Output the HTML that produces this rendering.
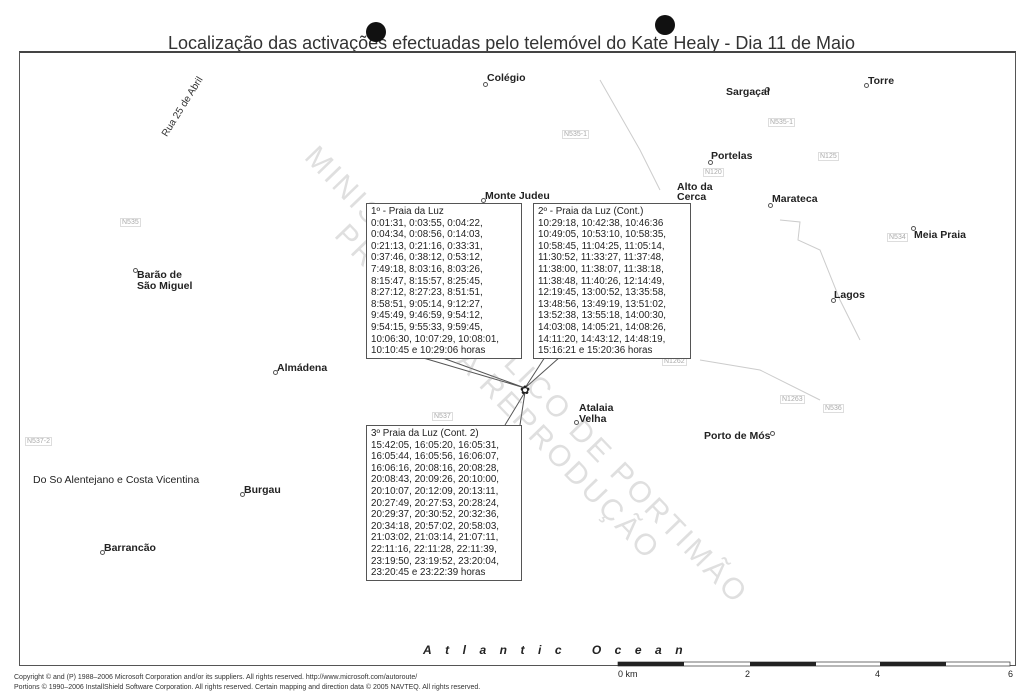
<!DOCTYPE html>
<html><head><meta charset="utf-8"><style>
body{margin:0;width:1024px;height:691px;background:#fff;position:relative;overflow:hidden;font-family:"Liberation Sans",sans-serif;color:#222}
.a{position:absolute;white-space:nowrap}
.p{position:absolute;font-weight:bold;font-size:10.5px;color:#222}
.d{position:absolute;width:3px;height:3px;border:1px solid #555;border-radius:50%;background:#fff}
.r{position:absolute;font-size:7px;color:#aaa;border:1px solid #ddd;padding:0 1px}
.box{position:absolute;border:1px solid #555;background:#fff;font-size:9.8px;line-height:11.6px;padding:2px 4px;color:#222}
.wm{position:absolute;font-size:30px;color:rgba(150,150,150,.3);letter-spacing:3px;transform-origin:0 0;white-space:nowrap}
</style></head><body>
<div class="a" style="left:168px;top:33px;font-size:18px;color:#333">Localização das activações efectuadas pelo telemóvel do Kate Healy - Dia 11 de Maio</div>
<div class="a" style="left:366px;top:22px;width:20px;height:20px;border-radius:50%;background:#111"></div>
<div class="a" style="left:655px;top:15px;width:20px;height:20px;border-radius:50%;background:#111"></div>
<div class="a" style="left:19px;top:51px;width:995px;height:612px;border:1px solid #555;border-top:2px solid #444"></div>
<div class="a" style="left:160px;top:133px;font-size:10px;color:#333;transform:rotate(-58deg);transform-origin:0 0">Rua 25 de Abril</div>
<svg class="a" style="left:0;top:0" width="1024" height="691">
<g fill="none" stroke="#ccc" stroke-width="1">
<path d="M600 80 L640 150 L660 190"/>
<path d="M780 220 L800 222 L798 240 L820 250 L840 300 L860 340"/>
<path d="M700 360 L760 370 L820 400"/>
</g>
<g stroke="#555" fill="none">
<path d="M420 357 L525 388 L440 357"/>
<path d="M545 357 L525 388 L560 357"/>
<path d="M505 425 L525 392 L520 425"/>
</g>
<text x="520" y="394" font-size="12" font-family="Liberation Sans" fill="#222">✿</text>
<rect x="618" y="662" width="392" height="4" fill="#fff" stroke="#333" stroke-width="0.7"/>
<rect x="618" y="662" width="66" height="4" fill="#222"/><rect x="750" y="662" width="66" height="4" fill="#222"/><rect x="880" y="662" width="66" height="4" fill="#222"/>
</svg>
<div class="wm" style="left:322px;top:140px;transform:rotate(46deg)">MINISTÉRIO PÚBLICO DE PORTIMÃO</div>
<div class="wm" style="left:352px;top:218px;transform:rotate(46deg)">PROIBIDA A REPRODUÇÃO</div>
<div class="d" style="left:483px;top:82px"></div><div class="p" style="left:487px;top:72px">Colégio</div>
<div class="d" style="left:765px;top:87px"></div><div class="p" style="left:726px;top:86px">Sargaçal</div>
<div class="d" style="left:864px;top:83px"></div><div class="p" style="left:868px;top:75px">Torre</div>
<div class="d" style="left:708px;top:160px"></div><div class="p" style="left:711px;top:150px">Portelas</div>
<div class="p" style="left:677px;top:182px;line-height:10px">Alto da<br>Cerca</div><div class="d" style="left:673px;top:203px"></div>
<div class="d" style="left:768px;top:203px"></div><div class="p" style="left:772px;top:193px">Marateca</div>
<div class="d" style="left:911px;top:226px"></div><div class="p" style="left:914px;top:229px">Meia Praia</div>
<div class="d" style="left:831px;top:298px"></div><div class="p" style="left:834px;top:289px">Lagos</div>
<div class="p" style="left:485px;top:190px">Monte Judeu</div><div class="d" style="left:481px;top:198px"></div>
<div class="d" style="left:133px;top:268px"></div><div class="p" style="left:137px;top:270px;line-height:11px">Barão de<br>São Miguel</div>
<div class="d" style="left:273px;top:370px"></div><div class="p" style="left:277px;top:362px">Almádena</div>
<div class="d" style="left:574px;top:420px"></div><div class="p" style="left:579px;top:403px;line-height:11px">Atalaia<br>Velha</div>
<div class="d" style="left:770px;top:431px"></div><div class="p" style="left:704px;top:430px">Porto de Mós</div>
<div class="p" style="left:33px;top:474px;font-weight:normal">Do So Alentejano e Costa Vicentina</div>
<div class="d" style="left:240px;top:492px"></div><div class="p" style="left:244px;top:484px">Burgau</div>
<div class="d" style="left:100px;top:550px"></div><div class="p" style="left:104px;top:542px">Barrancão</div>
<div class="r" style="left:562px;top:130px">N535-1</div><div class="r" style="left:768px;top:118px">N535-1</div>
<div class="r" style="left:703px;top:168px">N120</div><div class="r" style="left:818px;top:152px">N125</div>
<div class="r" style="left:120px;top:218px">N535</div><div class="r" style="left:887px;top:233px">N534</div>
<div class="r" style="left:662px;top:357px">N1262</div><div class="r" style="left:780px;top:395px">N1263</div>
<div class="r" style="left:823px;top:404px">N536</div><div class="r" style="left:432px;top:412px">N537</div>
<div class="r" style="left:25px;top:437px">N537-2</div>
<div class="box" style="left:366px;top:203px;width:146px;height:150px">1º - Praia da Luz<br>0:01:31, 0:03:55, 0:04:22,<br>0:04:34, 0:08:56, 0:14:03,<br>0:21:13, 0:21:16, 0:33:31,<br>0:37:46, 0:38:12, 0:53:12,<br>7:49:18, 8:03:16, 8:03:26,<br>8:15:47, 8:15:57, 8:25:45,<br>8:27:12, 8:27:23, 8:51:51,<br>8:58:51, 9:05:14, 9:12:27,<br>9:45:49, 9:46:59, 9:54:12,<br>9:54:15, 9:55:33, 9:59:45,<br>10:06:30, 10:07:29, 10:08:01,<br>10:10:45 e 10:29:06 horas</div>
<div class="box" style="left:533px;top:203px;width:148px;height:150px">2º - Praia da Luz (Cont.)<br>10:29:18, 10:42:38, 10:46:36<br>10:49:05, 10:53:10, 10:58:35,<br>10:58:45, 11:04:25, 11:05:14,<br>11:30:52, 11:33:27, 11:37:48,<br>11:38:00, 11:38:07, 11:38:18,<br>11:38:48, 11:40:26, 12:14:49,<br>12:19:45, 13:00:52, 13:35:58,<br>13:48:56, 13:49:19, 13:51:02,<br>13:52:38, 13:55:18, 14:00:30,<br>14:03:08, 14:05:21, 14:08:26,<br>14:11:20, 14:43:12, 14:48:19,<br>15:16:21 e 15:20:36 horas</div>
<div class="box" style="left:366px;top:425px;width:146px;height:150px">3º Praia da Luz (Cont. 2)<br>15:42:05, 16:05:20, 16:05:31,<br>16:05:44, 16:05:56, 16:06:07,<br>16:06:16, 20:08:16, 20:08:28,<br>20:08:43, 20:09:26, 20:10:00,<br>20:10:07, 20:12:09, 20:13:11,<br>20:27:49, 20:27:53, 20:28:24,<br>20:29:37, 20:30:52, 20:32:36,<br>20:34:18, 20:57:02, 20:58:03,<br>21:03:02, 21:03:14, 21:07:11,<br>22:11:16, 22:11:28, 22:11:39,<br>23:19:50, 23:19:52, 23:20:04,<br>23:20:45 e 23:22:39 horas</div>
<div class="a" style="left:423px;top:643px;font-size:12px;font-weight:bold;font-style:italic;letter-spacing:13.5px">Atlantic Ocean</div>
<div class="a" style="left:618px;top:669px;font-size:9px">0 km</div>
<div class="a" style="left:745px;top:669px;font-size:9px">2</div>
<div class="a" style="left:875px;top:669px;font-size:9px">4</div>
<div class="a" style="left:1008px;top:669px;font-size:9px">6</div>
<div class="a" style="left:14px;top:674px;font-size:7px;color:#333">Copyright © and (P) 1988–2006 Microsoft Corporation and/or its suppliers. All rights reserved. http://www.microsoft.com/autoroute/</div>
<div class="a" style="left:14px;top:684px;font-size:7px;color:#333">Portions © 1990–2006 InstallShield Software Corporation. All rights reserved. Certain mapping and direction data © 2005 NAVTEQ. All rights reserved.</div>
</body></html>
